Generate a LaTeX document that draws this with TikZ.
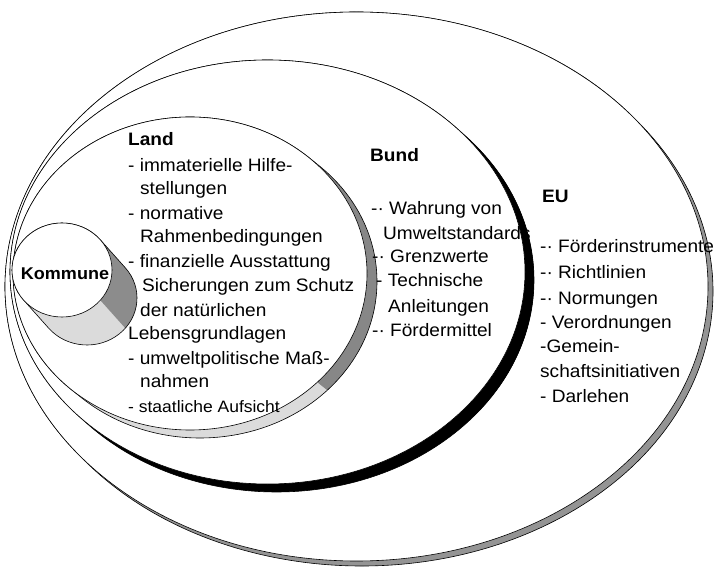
\documentclass[tikz,border=0pt]{standalone}
\usepackage{fontspec}
\setmainfont{Liberation Sans}[FakeStretch=1.06]

\definecolor{eugray}{gray}{0.58}
\definecolor{landdark}{gray}{0.53}
\definecolor{landlight}{gray}{0.86}
\definecolor{kommdark}{gray}{0.55}
\definecolor{kommlight}{gray}{0.86}

\tikzset{
  rim/.style={draw=black, line width=0.6pt},
  face/.style={fill=white, draw=black, line width=0.6pt},
  txt/.style={anchor=base west, inner sep=0pt, font=\fontsize{18}{22}\selectfont},
  head/.style={txt, font=\fontsize{18}{22}\selectfont\bfseries},
}

\begin{document}
\begin{tikzpicture}[x=1pt, y=1pt, line join=round]
	% Picture window (pixel units)
	\useasboundingbox (0,0) rectangle (715,568);
	
	% Disks: centre, radii, depth offset, side colours, split angle
	% EU, Bund, Land, Kommune (outer one first)
	\foreach \cx/\cy/\rx/\ry/\dx/\dy/\light/\dark/\tsplit in {
		356.5/281.5/351.5/274.5/5/-5/eugray/eugray/-40,
		267.5/296/257.5/212/9/-8/black/black/-40,
		190/294.5/177/156.5/10/-8/landlight/landdark/-44,
		62/298/50/47/25/-28/kommlight/kommdark/-40}
	{
		% angle where the side meets the face
		\pgfmathsetmacro{\tang}{atan2(\ry*\dx, 0-\rx*(\dy))}
		\pgfmathsetmacro{\ndx}{-1*\dx}
		\pgfmathsetmacro{\ndy}{-1*\dy}
		
		% side of the disk
		\fill[fill=\light] (\cx,\cy) ++(\tang:{\rx} and {\ry})
		arc[start angle=\tang, delta angle=180, x radius=\rx, y radius=\ry]
		-- ++(\dx,\dy)
		arc[start angle=\tang+180, delta angle=180, x radius=\rx, y radius=\ry] -- cycle;
		
		% darker part facing right
		\fill[fill=\dark] (\cx,\cy) ++(\tang:{\rx} and {\ry}) -- ++(\dx,\dy)
		arc[start angle=\tang, end angle=\tsplit, x radius=\rx, y radius=\ry]
		-- ++(\ndx,\ndy)
		arc[start angle=\tsplit, end angle=\tang, x radius=\rx, y radius=\ry] -- cycle;
		
		% outline of the side
		\draw[rim] (\cx,\cy) ++(\tang:{\rx} and {\ry})
		arc[start angle=\tang, delta angle=180, x radius=\rx, y radius=\ry]
		-- ++(\dx,\dy)
		arc[start angle=\tang+180, delta angle=180, x radius=\rx, y radius=\ry] -- cycle;
		
		% front face
		\draw[face] (\cx,\cy) ellipse[x radius=\rx, y radius=\ry];
	}
	
	% Kommune
	\node[head, anchor=base, font=\fontsize{17}{20}\selectfont\bfseries] (kommune) at (65,288) {Kommune};
	
	% Land
	\node[head] (land) at (128,422) {Land};
	\foreach \x/\y/\txt [count=\i] in {
		128/396/{- immaterielle Hilfe-},
		140/373/{stellungen},
		128/348/{- normative},
		140/325/{Rahmenbedingungen},
		128/300/{- finanzielle Ausstattung},
		142/276/{Sicherungen zum Schutz},
		140/251/{der natürlichen},
		128/228/{Lebensgrundlagen},
		128/203/{- umweltpolitische Maß-},
		140/180/{nahmen}}
	\node[txt] (land\i) at (\x,\y) {\txt};
	\node[txt, font=\fontsize{16.5}{20}\selectfont] (landlast) at (128,155) {- staatliche Aufsicht};
	
	% Bund
	\node[head] (bund) at (370,406) {Bund};
	\foreach \x/\y/\txt [count=\i] in {
		371/353/{-· Wahrung von},
		383/328/{Umweltstandards},
		372/305/{-· Grenzwerte},
		376/281/{- Technische},
		388/255/{Anleitungen},
		372/231/{-· Fördermittel}}
	\node[txt] (bund\i) at (\x,\y) {\txt};
	
	% EU
	\node[head] (eu) at (542,365) {EU};
	\foreach \x/\y/\txt [count=\i] in {
		540/315/{-· Förderinstrumente},
		540/289/{-· Richtlinien},
		540/263/{-· Normungen},
		540/239/{- Verordnungen},
		540/215/{-Gemein-},
		540/190/{schaftsinitiativen},
		540/165/{- Darlehen}}
	\node[txt] (eu\i) at (\x,\y) {\txt};
\end{tikzpicture}
\end{document}
